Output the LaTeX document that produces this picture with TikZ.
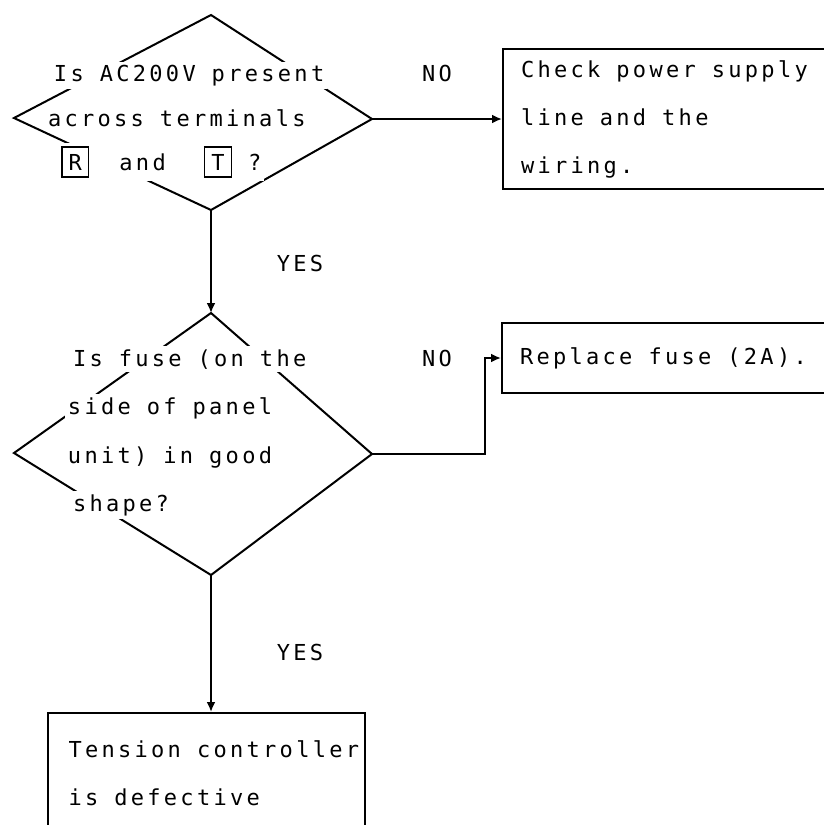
\documentclass[tikz,border=0pt]{standalone}
\usepackage{fontspec}
\setmainfont{DejaVu Sans Mono}[LetterSpace=15,WordSpace={1,0,0}]
\usetikzlibrary{arrows.meta}

% typewriter look: fixed size, fixed word space
\newcommand{\flowfont}{\fontsize{11}{24}\selectfont\spaceskip=8pt\relax}
% boxed terminal letter
\newcommand{\termkey}[1]{{\setlength{\fboxsep}{3pt}\setlength{\fboxrule}{0.8pt}\fbox{#1}}}

\begin{document}
\begin{tikzpicture}[x=0.5pt,y=-0.5pt,line width=1pt,
    every node/.style={font=\flowfont},
    qline/.style={fill=white,inner sep=1.5pt,anchor=base west},
    actbox/.style={draw,anchor=north west,align=left,inner xsep=9pt,
        execute at begin node={\spaceskip=8pt\relax}},
    flow/.style={-{Latex[length=5pt,width=4.5pt]}}]
    \useasboundingbox (0,0) rectangle (824,825);

    % question 1
    \coordinate (q1t) at (211,15);
    \coordinate (q1r) at (372,119);
    \coordinate (q1b) at (211,210);
    \coordinate (q1l) at (14,118);
    \draw (q1t) -- (q1r) -- (q1b) -- (q1l) -- cycle;
    \node[qline] (q1x1) at (50,81) {Is AC200V present};
    \node[qline] (q1x2) at (44,126) {across terminals};
    \node[qline] (q1x3) at (57,170) {\termkey{R}\hspace{15pt}and\hspace{19pt}\termkey{T} ?};

    % question 2
    \coordinate (q2t) at (211,313);
    \coordinate (q2r) at (372,454);
    \coordinate (q2b) at (211,575);
    \coordinate (q2l) at (14,453);
    \draw (q2t) -- (q2r) -- (q2b) -- (q2l) -- cycle;
    \node[qline] (q2x1) at (69,366) {Is fuse (on the};
    \node[qline] (q2x2) at (64,414) {side of panel};
    \node[qline] (q2x3) at (64,463) {unit) in good};
    \node[qline] (q2x4) at (69,511) {shape?};

    % actions
    \node[actbox,text width=155pt,minimum height=70pt] (supply) at (502,48)
        {Check power supply\\line and the\\wiring.};
    \node[actbox,text width=155pt,minimum height=35pt] (fuse) at (501,322)
        {Replace fuse (2A).};
    \node[actbox,text width=150pt,inner xsep=4.25pt,minimum height=60pt] (defect) at (47,712)
        {\hspace*{6pt}Tension controller\\\hspace*{6pt}is defective};

    % connectors
    \coordinate (bend) at (485,454);
    \draw[flow] (q1r) -- (q1r -| supply.west);
    \draw[flow] (q1b) -- (q2t);
    \draw[flow] (q2r) -- (bend) |- (fuse.west);
    \draw[flow] (q2b) -- (q2b |- defect.north);

    \node (no1) at (437,73) {NO};
    \node (no2) at (437,358) {NO};
    \node (yes1) at (300,263) {YES};
    \node (yes2) at (300,652) {YES};
\end{tikzpicture}
\end{document}
